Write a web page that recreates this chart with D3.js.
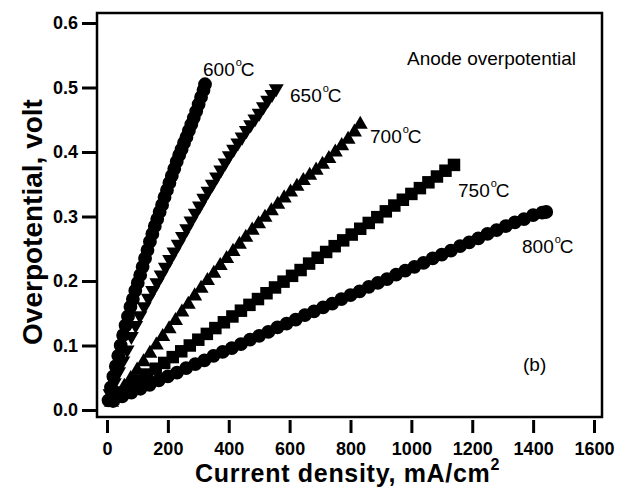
<!DOCTYPE html>
<html>
<head>
<meta charset="utf-8">
<script src="https://cdn.jsdelivr.net/npm/d3@7"></script>
<style>
  body { margin: 0; background: #fff; }
  text { font-family: "Liberation Sans", Arial, Helvetica, sans-serif; fill: #000; }
</style>
</head>
<body>
<svg id="chart" width="626" height="489"></svg>
<script>
// ===============================
// Data
// ===============================
const xTicks = [0, 200, 400, 600, 800, 1000, 1200, 1400, 1600];
const yTicks = [0.0, 0.1, 0.2, 0.3, 0.4, 0.5, 0.6];

// current density (mA/cm2), overpotential (V)
const t600 = [
  [5,0.015],[13,0.035],[21,0.052],[29,0.068],[37,0.084],[45,0.100],[53,0.116],[61,0.131],
  [69,0.145],[77,0.160],[85,0.172],[93,0.185],[101,0.197],[109,0.209],[117,0.222],[125,0.235],
  [133,0.248],[141,0.261],[149,0.273],[157,0.285],[165,0.296],[173,0.307],[181,0.318],[189,0.330],
  [197,0.341],[205,0.352],[213,0.363],[221,0.374],[229,0.385],[237,0.395],[245,0.404],[253,0.414],
  [261,0.423],[269,0.433],[277,0.443],[285,0.453],[293,0.463],[301,0.474],[309,0.485],[317,0.496],
  [322,0.505]
];
const t650 = [
  [10,0.022],[24,0.039],[38,0.056],[52,0.073],[66,0.090],[80,0.111],[94,0.128],[108,0.143],
  [122,0.157],[136,0.170],[150,0.182],[164,0.194],[178,0.206],[192,0.218],[206,0.230],[220,0.242],
  [234,0.254],[248,0.266],[262,0.278],[276,0.290],[290,0.302],[304,0.313],[318,0.325],[332,0.336],
  [346,0.347],[360,0.358],[374,0.369],[388,0.380],[402,0.391],[416,0.401],[430,0.411],[444,0.420],
  [458,0.430],[472,0.439],[486,0.448],[500,0.457],[514,0.467],[528,0.477],[542,0.486],[556,0.495]
];
const t700 = [
  [15,0.015],[36,0.027],[57,0.040],[78,0.052],[99,0.065],[120,0.078],[141,0.091],[162,0.104],
  [183,0.117],[204,0.129],[225,0.142],[246,0.155],[267,0.167],[288,0.180],[309,0.192],[330,0.204],
  [351,0.215],[372,0.227],[393,0.238],[414,0.249],[435,0.260],[456,0.271],[477,0.282],[498,0.292],
  [519,0.302],[540,0.312],[561,0.322],[582,0.332],[603,0.341],[624,0.350],[645,0.359],[666,0.367],
  [687,0.375],[708,0.384],[729,0.393],[750,0.403],[771,0.413],[792,0.423],[813,0.434],[832,0.446]
];
const t750 = [
  [20,0.018],[48,0.027],[76,0.037],[104,0.046],[132,0.055],[160,0.064],[188,0.073],[216,0.082],
  [244,0.091],[272,0.100],[300,0.109],[328,0.118],[356,0.127],[384,0.136],[412,0.145],[440,0.154],
  [468,0.163],[496,0.172],[524,0.181],[552,0.190],[580,0.199],[608,0.208],[636,0.217],[664,0.227],
  [692,0.236],[720,0.245],[748,0.254],[776,0.263],[804,0.272],[832,0.281],[860,0.290],[888,0.299],
  [916,0.308],[944,0.317],[972,0.326],[1000,0.335],[1028,0.344],[1056,0.353],[1084,0.362],[1112,0.371],
  [1140,0.380]
];
const t800 = [
  [20,0.014],[50,0.021],[80,0.027],[110,0.033],[140,0.039],[170,0.046],[200,0.052],[230,0.058],
  [260,0.065],[290,0.071],[320,0.077],[350,0.084],[380,0.090],[410,0.096],[440,0.102],[470,0.109],
  [500,0.115],[530,0.121],[560,0.128],[590,0.134],[620,0.140],[650,0.147],[680,0.153],[710,0.159],
  [740,0.165],[770,0.172],[800,0.178],[830,0.184],[860,0.191],[890,0.197],[920,0.203],[950,0.210],
  [980,0.216],[1010,0.222],[1040,0.228],[1070,0.235],[1100,0.241],[1130,0.247],[1160,0.254],[1190,0.260],
  [1220,0.266],[1250,0.273],[1280,0.279],[1310,0.285],[1340,0.291],[1370,0.296],[1400,0.302],[1430,0.306],
  [1443,0.307]
];

const series = [
  { name: "600", data: t600, symbol: d3.symbolCircle, size: 150 },
  { name: "650", data: t650, symbol: "down", size: 15 },
  { name: "700", data: t700, symbol: "up", size: 15 },
  { name: "750", data: t750, symbol: d3.symbolSquare, size: 156 },
  { name: "800", data: t800, symbol: d3.symbolCircle, size: 150 }
];

// label positions (pixels) for the temperature tags
const tempLabels = [
  { text: "600", x: 203, y: 76 },
  { text: "650", x: 290, y: 102 },
  { text: "700", x: 370, y: 143 },
  { text: "750", x: 458, y: 197 },
  { text: "800", x: 522, y: 253 }
];

// ===============================
// Chart
// ===============================
const svg = d3.select("#chart");

const frame = { left: 97, top: 13, right: 602, bottom: 417 };

const x = d3.scaleLinear().domain([0, 1600]).range([107, 594]);
const y = d3.scaleLinear().domain([0, 0.6]).range([410, 23]);

// triangles
function tri(s, down) {
  const h = s * 0.87;
  return down
    ? `M${-s/2},${-h/2}L${s/2},${-h/2}L0,${h/2}Z`
    : `M${-s/2},${h/2}L${s/2},${h/2}L0,${-h/2}Z`;
}

// markers
series.forEach(s => {
  let pathStr;
  if (s.symbol === "down") pathStr = tri(s.size, true);
  else if (s.symbol === "up") pathStr = tri(s.size, false);
  else pathStr = d3.symbol().type(s.symbol).size(s.size)();

  svg.append("g")
    .selectAll("path")
    .data(s.data)
    .enter()
    .append("path")
    .attr("transform", d => `translate(${x(d[0])},${y(d[1])})`)
    .attr("d", pathStr)
    .attr("fill", "#000");
});

// frame
svg.append("rect")
  .attr("x", frame.left)
  .attr("y", frame.top)
  .attr("width", frame.right - frame.left)
  .attr("height", frame.bottom - frame.top)
  .attr("fill", "none")
  .attr("stroke", "#000")
  .attr("stroke-width", 2.5);

// Axes
const yAxis = svg.append("g")
  .attr("transform", `translate(${frame.left},0)`)
  .call(d3.axisLeft(y).tickValues(yTicks).tickSize(15).tickPadding(4).tickFormat(d3.format(".1f")));

const xAxis = svg.append("g")
  .attr("transform", `translate(0,420)`)
  .call(d3.axisBottom(x).tickValues(xTicks).tickSize(13).tickPadding(9).tickFormat(d3.format("d")));

[yAxis, xAxis].forEach(g => {
  g.select(".domain").remove();
  g.selectAll(".tick line").attr("stroke", "#000").attr("stroke-width", 3);
  g.selectAll(".tick text")
    .attr("fill", "#000")
    .style("font-family", '"Liberation Sans", Arial, sans-serif')
    .style("font-size", "18px")
    .style("font-weight", "bold");
});

// axis titles
const xt = svg.append("text")
  .attr("x", 195)
  .attr("y", 482)
  .style("font-size", "25px")
  .style("font-weight", "bold")
  .style("letter-spacing", "0.7px")
  .text("Current density, mA/cm");
xt.append("tspan")
  .attr("dy", -12)
  .style("font-size", "16px")
  .text("2");

svg.append("text")
  .attr("transform", "translate(42,222) rotate(-90)")
  .attr("text-anchor", "middle")
  .style("font-size", "28px")
  .style("font-weight", "bold")
  .text("Overpotential, volt");

// temperature labels
tempLabels.forEach(l => {
  const t = svg.append("text")
    .attr("x", l.x)
    .attr("y", l.y)
    .style("font-size", "19px")
    .text(l.text);
  t.append("tspan")
    .attr("dy", -10)
    .attr("dx", 1)
    .style("font-size", "11px")
    .text("o");
  t.append("tspan")
    .attr("dy", 10)
    .attr("dx", -1)
    .text("C");
});

svg.append("text")
  .attr("x", 407)
  .attr("y", 65)
  .style("font-size", "19px")
  .text("Anode overpotential");

svg.append("text")
  .attr("x", 523)
  .attr("y", 371)
  .style("font-size", "19px")
  .text("(b)");
</script>
</body>
</html>
